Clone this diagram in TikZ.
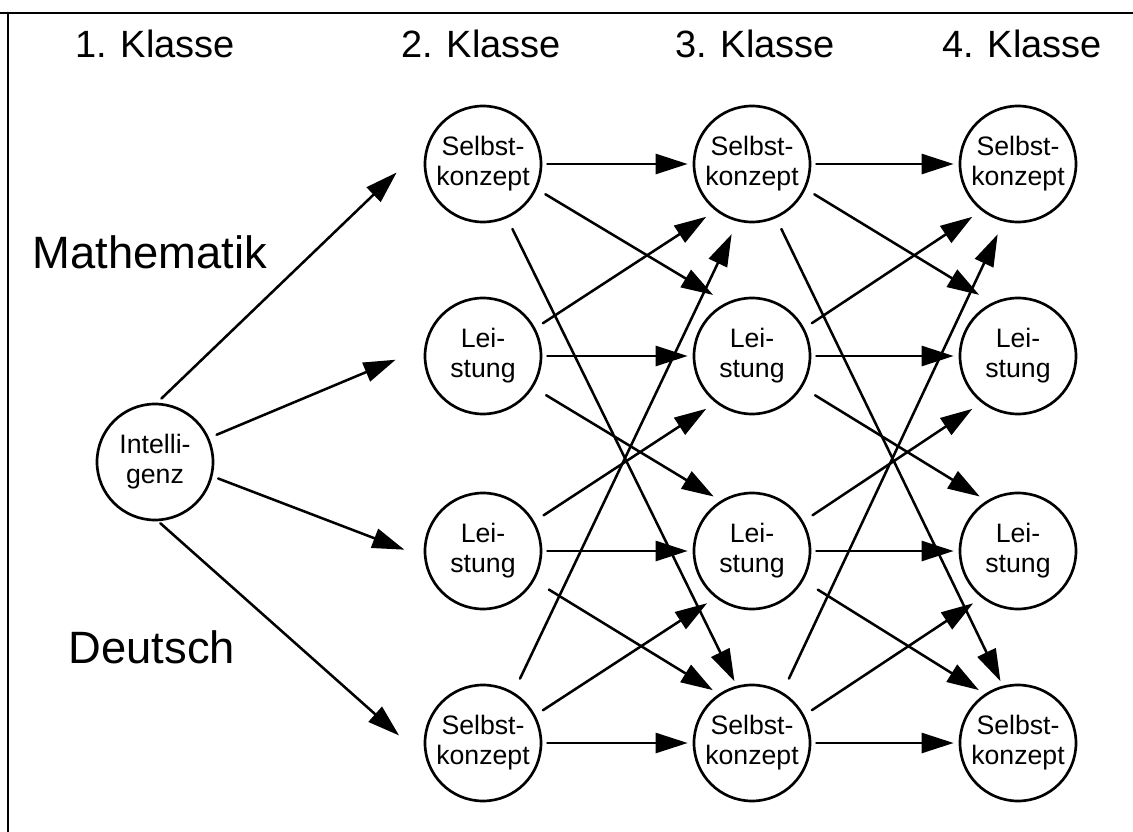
\documentclass[tikz,border=0pt]{standalone}
\usepackage{fontspec}
\setmainfont{Liberation Sans}
\usetikzlibrary{arrows.meta}
\tikzset{
	kreis/.style={circle,draw,line width=2pt,minimum size=87pt,inner sep=0pt,align=center,font=\fontsize{20}{22.5}\selectfont},
	pf/.style={line width=1.9pt,-{Triangle[length=24pt,width=15pt]}},
	titel/.style={anchor=base,font=\fontsize{28.5}{34}\selectfont},
	fach/.style={anchor=base,font=\fontsize{34}{40}\selectfont}
}
\begin{document}
\begin{tikzpicture}[x=0.75pt,y=-0.75pt,line join=round,line cap=round]
	\useasboundingbox (0,0) rectangle (1133,832);
	% Rahmen
	\draw[line width=2pt] (0,13) -- (1133,13) (8,13) -- (8,832);
	% Kopfzeile und Faecher
	\node[titel] (k1) at (155,57) {1. Klasse};
	\node[titel] (k2) at (481,57) {2. Klasse};
	\node[titel] (k3) at (755,57) {3. Klasse};
	\node[titel] (k4) at (1022,57) {4. Klasse};
	\node[fach] (mathe) at (150,268) {Mathematik};
	\node[fach] (deutsch) at (152,663) {Deutsch};
	% Knoten
	\node[kreis] (int) at (155,462) {Intelli-\\genz};
	\foreach \k/\x in {2/483,3/752,4/1018}{
		\node[kreis] (sm\k) at (\x,164) {Selbst-\\konzept};
		\node[kreis] (lm\k) at (\x,356) {Lei-\\stung};
		\node[kreis] (ld\k) at (\x,551) {Lei-\\stung};
		\node[kreis] (sd\k) at (\x,743) {Selbst-\\konzept};
	}
	% Pfeile
	\foreach \b/\p/\q/\g/\h in {sm/88/159/6/43,lm/24/172/8/31,ld/-14/-174/6/21,sd/-87/-164/3/36}
		\draw[pf,shorten <=\g*0.75pt,shorten >=\h*0.75pt] (int.\p) -- (\b2.\q);
	\foreach \i/\j in {2/3,3/4}
		\foreach \a/\p/\b/\q/\g/\h in {sm/0/sm/180/5/5,sm/-25/lm/116/10/15,sm/-66/sd/105/12/5,
			lm/28/sm/-128/9/11,lm/0/lm/180/5/5,lm/-32/ld/122/15/8,
			ld/30/lm/-128/11/11,ld/0/ld/180/5/5,ld/-30/sd/124/17/7,
			sd/28/ld/-128/9/10,sd/0/sd/180/5/5,sd/59/sm/-104/15/14}
			\draw[pf,shorten <=\g*0.75pt,shorten >=\h*0.75pt] (\a\i.\p) -- (\b\j.\q);
\end{tikzpicture}
\end{document}
